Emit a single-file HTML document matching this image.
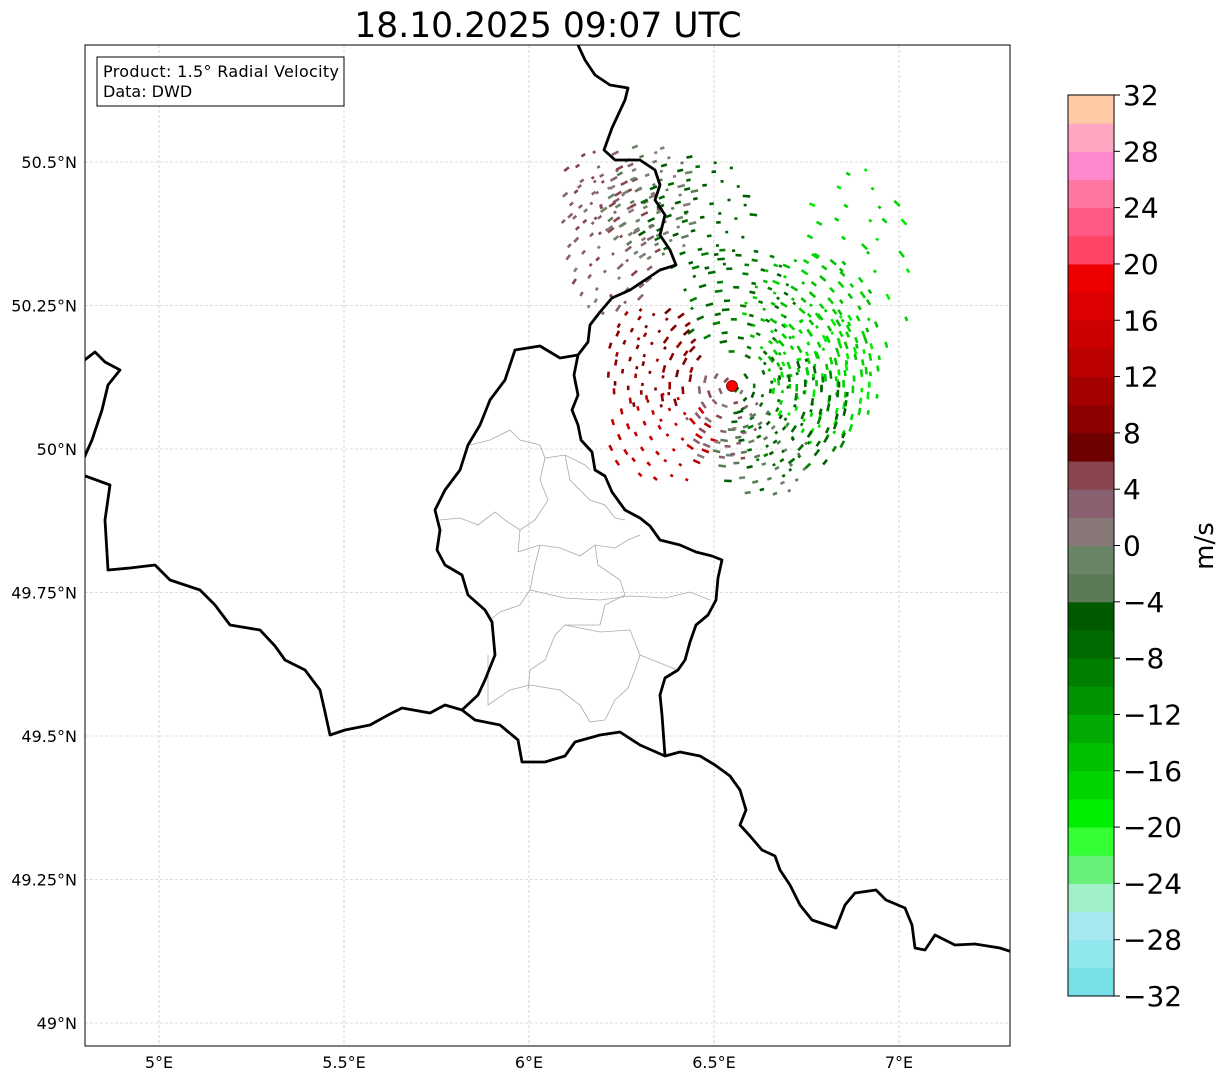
<!DOCTYPE html>
<html><head><meta charset="utf-8"><style>
body{margin:0;background:#fff;}
svg text{font-family:"DejaVu Sans","Liberation Sans",sans-serif;}
</style></head><body>
<svg id="chart" width="1225" height="1081" xmlns="http://www.w3.org/2000/svg">
<rect width="1225" height="1081" fill="#fff"/>
<text x="548" y="37" font-size="34.5" text-anchor="middle">18.10.2025 09:07 UTC</text>
<defs><clipPath id="mapclip"><rect x="85" y="45" width="925" height="1001"/></clipPath></defs>
<g id="grid"></g>
<g id="cantons" clip-path="url(#mapclip)" fill="none" stroke="#aaa" stroke-width="0.8">
<path d="M470,445 L490,440 L510,430 L520,440 L540,445 L545,458 L565,455 L585,465 L590,470"/>
<path d="M545,458 L540,480 L548,500 L535,520 L520,530 L518,552"/>
<path d="M565,455 L570,480 L590,500 L605,505 L615,518 L625,520"/>
<path d="M440,520 L460,518 L478,525 L495,512 L505,520 L520,530"/>
<path d="M518,552 L540,545 L560,548 L580,556 L595,545 L615,548 L628,540 L640,535"/>
<path d="M540,545 L535,565 L530,590 L520,605 L500,612 L490,620"/>
<path d="M595,545 L598,565 L620,580 L625,595 L605,605 L600,625 L565,625 L555,635 L545,660 L530,670 L528,690"/>
<path d="M530,590 L565,598 L600,600 L630,596 L665,598 L690,592 L710,600"/>
<path d="M565,625 L600,632 L630,630 L640,655 L635,670 L628,688 L615,700 L605,720 L590,722"/>
<path d="M488,705 L510,690 L530,685 L560,690 L580,705 L590,722"/>
<path d="M640,655 L665,665 L678,670"/>
<path d="M488,655 L488,705"/>
</g>
<g id="echoes" clip-path="url(#mapclip)"></g>
<g clip-path="url(#mapclip)" fill="none" stroke="#000" stroke-width="2.8" stroke-linejoin="round">
<path d="M578,45 L585,60 L595,75 L610,85 L628,88 L625,100 L618,115 L612,128 L604,150 L615,160 L640,160 L655,170 L660,185 L655,200 L665,215 L660,235 L670,250 L676,265 L660,270 L642,282 L630,290 L612,298 L600,312 L590,325 L588,342 L578,355 L574,375 L578,395 L572,410 L578,425 L581,440 L592,452 L595,470 L605,476 L612,492 L625,510 L640,518 L650,526 L660,540 L680,545 L696,552 L712,556 L722,560 L718,578 L716,600 L708,615 L696,625 L690,642 L685,660 L678,670 L665,678 L660,695 L662,715 L665,756 L680,752 L700,756 L715,765 L730,776 L740,790 L746,810 L740,825 L750,836 L762,850 L775,856 L780,870 L790,885 L800,905 L812,920 L836,928 L845,905 L855,893 L876,890 L886,900 L905,908 L912,925 L915,948 L925,950 L935,935 L955,945 L975,944 L1000,948 L1012,952"/>
<path d="M578,355 L560,358 L540,346 L515,350 L505,380 L490,400 L480,425 L468,445 L460,470 L445,490 L435,510 L440,530 L437,550 L445,565 L462,575 L468,595 L485,610 L492,622 L495,655 L485,680 L478,695 L462,710 L475,720 L500,725 L518,740 L522,762 L545,762 L565,756 L575,742 L600,735 L620,732 L640,745 L665,756"/>
<path d="M80,474 L110,485 L105,520 L108,570 L130,568 L155,565 L170,580 L200,590 L215,605 L230,625 L260,630 L275,646 L285,660 L305,670 L320,690 L325,712 L330,735 L345,730 L370,725 L390,714 L402,708 L430,713 L445,705 L462,710"/>
<path d="M82,362 L95,352 L105,362 L120,370 L108,385 L102,410 L92,440 L84,458"/>
</g>
<circle cx="732" cy="386" r="5.5" fill="#f00" stroke="#600" stroke-width="0.8"/>
<rect x="85" y="45" width="925" height="1001" fill="none" stroke="#000" stroke-width="1"/>
<g id="axes"></g>
<g>
<rect x="97" y="57" width="247" height="49" fill="#fff" stroke="#000" stroke-width="1"/>
<text x="103" y="77" font-size="16" textLength="236">Product: 1.5° Radial Velocity</text>
<text x="103" y="97" font-size="16">Data: DWD</text>
</g>
<g id="cbar"></g>
<text font-size="26" text-anchor="middle" transform="translate(1213,546) rotate(-90)">m/s</text>
</svg>
<script>
const NS="http://www.w3.org/2000/svg";
const lonTicks=[5,5.5,6,6.5,7];
const lonLabels=["5°E","5.5°E","6°E","6.5°E","7°E"];
const latTicks=[49,49.25,49.5,49.75,50,50.25,50.5];
const latLabels=["49°N","49.25°N","49.5°N","49.75°N","50°N","50.25°N","50.5°N"];
const cbarColors=["#77e0e8","#90e8ee","#a6e8f0","#a0f0c8","#66f07a","#33ff33","#00ee00","#00d500","#00c000","#00aa00","#009500","#007f00","#006a00","#005a00","#5a7a58","#6a8468","#887878","#886070","#88454e","#6e0000","#8c0000","#a40000","#bb0000","#cc0000","#dd0000","#ee0000","#ff4466","#ff5a85","#ff77a0","#ff88cc","#ffa6c0","#ffcba6"];
const cbarTicks=[-32,-28,-24,-20,-16,-12,-8,-4,0,4,8,12,16,20,24,28,32];
// echo clusters: center lon, lat, spread (deg lon), spread (deg lat), count, velocity m/s
const clLon=[6.23,6.19,6.33,6.45,6.57,6.76,6.80,6.71,6.33,6.36,6.87,6.62,6.52,6.95];
const clLat=[50.36,50.45,50.43,50.41,50.26,50.22,50.13,50.06,50.16,50.02,50.39,49.99,50.05,50.25];
const clSx=[0.14,0.1,0.13,0.16,0.16,0.18,0.15,0.16,0.13,0.15,0.16,0.13,0.1,0.12];
const clSy=[0.13,0.08,0.1,0.1,0.1,0.12,0.12,0.1,0.09,0.08,0.1,0.08,0.08,0.15];
const clN=[80,35,70,60,70,120,120,100,70,50,25,50,40,12];
const clV=[3,4,-1,-6,-8,-16,-18,-7,9,14,-17,-3,3,-17];

const xS=lon=>159+(lon-5)*370;
const yS=lat=>449-(lat-50)*574;
const cY=v=>996-(v+32)*(901/64);
const col=v=>cbarColors[Math.max(0,Math.min(31,Math.floor((v+32)/2)))];
const fr=x=>x-Math.floor(x);
function mk(t,a,p){const e=document.createElementNS(NS,t);for(const k in a)e.setAttribute(k,a[k]);p.appendChild(e);return e;}
const grid=document.getElementById('grid'),axes=document.getElementById('axes');
lonTicks.forEach((l,i)=>{const x=xS(l);
 const g=mk('line',{x1:x,x2:x,y1:45,y2:1046,stroke:'#bbb','stroke-width':0.6,'stroke-dasharray':'3,2'},grid);
 
 const t=mk('text',{x:x,y:1068,'font-size':16,'text-anchor':'middle'},axes);t.textContent=lonLabels[i];
 });
latTicks.forEach((l,i)=>{const y=yS(l);
 const g=mk('line',{x1:85,x2:1010,y1:y,y2:y,stroke:'#bbb','stroke-width':0.6,'stroke-dasharray':'3,2'},grid);
 
 const t=mk('text',{x:77,y:y+6,'font-size':16,'text-anchor':'end'},axes);t.textContent=latLabels[i];
 });
const cb=document.getElementById('cbar');
cbarColors.forEach((c,i)=>{const v0=-32+i*2;
 const r=mk('rect',{x:1068,y:cY(v0+2),width:46,height:cY(v0)-cY(v0+2)+0.5,fill:c},cb);
 });
mk('rect',{x:1068,y:95,width:46,height:901,fill:'none',stroke:'#000','stroke-width':1},cb);
cbarTicks.forEach(v=>{const y=cY(v);
 mk('line',{x1:1114,x2:1120,y1:y,y2:y,stroke:'#000'},cb);
 const t=mk('text',{x:1123,y:y+10,'font-size':28},cb);t.textContent=(v<0?'\u2212'+(-v):String(v));
 });
const ech=document.getElementById('echoes');
const rx=732,ry=386;
clLon.forEach((lo,c)=>{
 for(let k=0;k<clN[c];k++){
  const u=fr(0.5+(k+1)*0.7548776662+c*0.137), w2=fr(0.5+(k+1)*0.5698402910+c*0.291);
  const dx=(u*2-1), dy=(w2*2-1);
  if(dx*dx+dy*dy>1.05) continue;
  const x=xS(lo+clSx[c]*dx), y=yS(clLat[c]+clSy[c]*dy);
  const ang=Math.atan2(y-ry,x-rx)*180/Math.PI+90;
  const v=clV[c]+((k%5)-2)*0.8;
  const w=3+(k%4)*1.5;
  const e=mk('rect',{x:x-w/2,y:y-1.3,width:w,height:2.6,fill:col(v),transform:`rotate(${ang.toFixed(1)},${x.toFixed(1)},${y.toFixed(1)})`},ech);
  
  
 }});
</script>
</body></html>
